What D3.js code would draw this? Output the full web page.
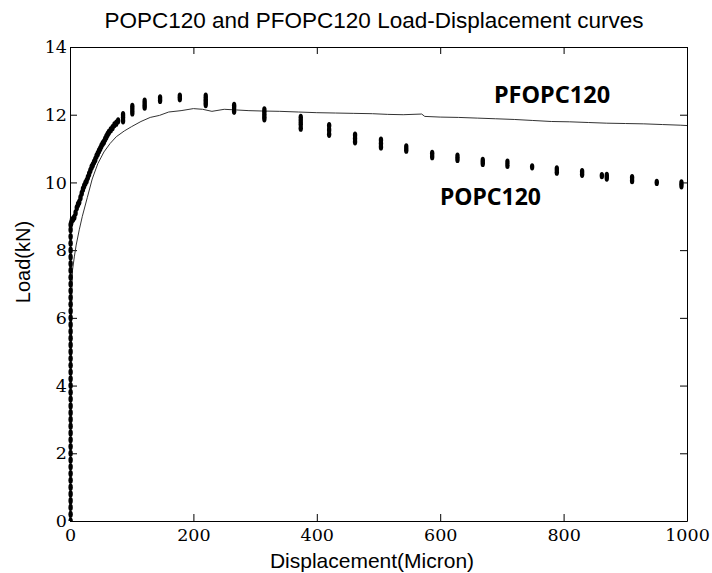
<!DOCTYPE html>
<html>
<head>
<meta charset="utf-8">
<script src="https://cdn.jsdelivr.net/npm/d3@7"></script>
<style>
  body { margin: 0; background: #fff; }
  svg { display: block; }
</style>
</head>
<body>
<div id="chart"></div>
<script>
// axis ticks
const xTicks = [0, 200, 400, 600, 800, 1000];
const yTicks = [0, 2, 4, 6, 8, 10, 12, 14];

// PFOPC120 : solid curve (displacement in micron, load in kN)
const pfopcDisp = [0, 1, 2, 3, 4, 7, 10, 15, 20, 28, 36, 45, 55, 65, 75, 88, 100, 115, 130, 145,
  160, 180, 200, 215, 230, 250, 270, 290, 310, 340, 370, 400, 430, 460, 490, 515, 540, 570,
  575, 600, 630, 660, 690, 720, 750, 780, 810, 840, 870, 900, 930, 960, 990, 1000];
const pfopcLoad = [0, 2.5, 5.0, 6.8, 7.4, 7.8, 8.15, 8.6, 9.0, 9.55, 10.1, 10.55, 10.9, 11.15, 11.35, 11.52, 11.65, 11.8, 11.92, 11.98,
  12.08, 12.12, 12.18, 12.16, 12.1, 12.16, 12.14, 12.12, 12.11, 12.1, 12.08, 12.06, 12.05, 12.04, 12.03, 12.01, 12.0, 12.02,
  11.95, 11.93, 11.92, 11.9, 11.88, 11.86, 11.83, 11.8, 11.79, 11.77, 11.75, 11.74, 11.73, 11.71, 11.69, 11.68];

// POPC120 : markers, elastic column near zero displacement
const popcColumnLoad = [0, 0.2, 0.4, 0.6, 0.8, 1.0, 1.2, 1.4, 1.6, 1.8, 2.0, 2.2, 2.4, 2.6, 2.8, 3.0,
  3.2, 3.4, 3.6, 3.8, 4.0, 4.2, 4.4, 4.6, 4.8, 5.0, 5.2, 5.4, 5.6, 5.8, 6.0, 6.2, 6.4, 6.6,
  6.8, 7.0, 7.2, 7.4, 7.6, 7.8, 8.0, 8.2, 8.4, 8.6, 8.75];

// POPC120 : rising and softening branch
const popcDisp = [2, 3, 5, 7, 9, 11, 13, 15, 17, 19, 21, 23, 25, 27, 29, 31, 33, 35, 37, 39,
  41, 43, 45, 47, 49, 51, 53, 55, 57, 59, 61, 63, 66, 69, 72, 75, 78,
  86, 86, 86, 101, 101, 101, 121, 121, 121, 146, 146, 178, 178,
  220, 220, 220, 220, 266, 266, 266, 315, 315, 315, 315, 374, 374, 374, 374,
  420, 420, 420, 462, 462, 462, 504, 504, 504, 545, 545, 587, 587, 628, 628,
  669, 669, 709, 709, 749, 789, 789, 830, 830, 862, 870, 870, 911, 911, 951, 991, 991];
const popcLoad = [8.8, 8.88, 8.92, 8.97, 9.1, 9.25, 9.35, 9.42, 9.55, 9.68, 9.8, 9.9, 9.98, 10.05, 10.15, 10.25, 10.35, 10.45, 10.52, 10.6,
  10.68, 10.78, 10.85, 10.93, 11.0, 11.08, 11.15, 11.2, 11.28, 11.35, 11.42, 11.48, 11.55, 11.62, 11.7, 11.75, 11.82,
  11.82, 11.92, 12.0, 12.05, 12.15, 12.25, 12.22, 12.3, 12.4, 12.42, 12.5, 12.47, 12.55,
  12.3, 12.38, 12.46, 12.55, 12.1, 12.2, 12.28, 11.88, 11.96, 12.05, 12.14, 11.6, 11.72, 11.82, 11.92,
  11.42, 11.55, 11.68, 11.2, 11.3, 11.4, 11.05, 11.15, 11.25, 10.95, 11.05, 10.76, 10.86, 10.68, 10.78,
  10.56, 10.65, 10.5, 10.6, 10.46, 10.3, 10.4, 10.24, 10.32, 10.2, 10.13, 10.21, 10.05, 10.14, 10.0, 9.9, 9.99];

const width = 712, height = 573;
const margin = { top: 47, right: 25, bottom: 52, left: 70 };

const svg = d3.select("#chart")
  .append("svg")
  .attr("width", width)
  .attr("height", height);

const x = d3.scaleLinear()
  .domain([0, 1000])
  .range([margin.left, width - margin.right]);

const y = d3.scaleLinear()
  .domain([0, 14])
  .range([height - margin.bottom, margin.top]);

svg.append("clipPath").attr("id", "plot")
  .append("rect")
  .attr("x", margin.left - 4)
  .attr("y", margin.top)
  .attr("width", width - margin.left - margin.right + 4)
  .attr("height", height - margin.top - margin.bottom);

// axes with inward ticks on all four sides
const serif = "'DejaVu Serif', serif";
const sans = "'Liberation Sans', Arial, sans-serif";

function styleAxis(g) {
  g.attr("font-family", null).attr("font-size", null);
  g.select(".domain").attr("stroke", "#000").attr("stroke-width", 1);
  g.selectAll(".tick line").attr("stroke", "#000");
  g.selectAll(".tick text")
    .attr("fill", "#000")
    .style("font-family", serif)
    .style("font-size", "17.5px");
}

svg.append("g")
  .attr("transform", `translate(0,${y(0)})`)
  .call(d3.axisBottom(x).tickValues(xTicks).tickFormat(d3.format("d")).tickSize(-7).tickPadding(5).tickSizeOuter(0))
  .call(styleAxis)
  .call(g => g.selectAll(".tick text").attr("dy", "0.85em"));

svg.append("g")
  .attr("transform", `translate(0,${y(14)})`)
  .call(d3.axisTop(x).tickValues(xTicks).tickSize(-7).tickFormat("").tickSizeOuter(0))
  .call(styleAxis);

svg.append("g")
  .attr("transform", `translate(${x(0)},0)`)
  .call(d3.axisLeft(y).tickValues(yTicks).tickSize(-7).tickPadding(3).tickSizeOuter(0))
  .call(styleAxis);

svg.append("g")
  .attr("transform", `translate(${x(1000)},0)`)
  .call(d3.axisRight(y).tickValues(yTicks).tickSize(-7).tickFormat("").tickSizeOuter(0))
  .call(styleAxis);

// PFOPC120 line
const pfopc = pfopcDisp.map((d, i) => [d, pfopcLoad[i]]);
const line = d3.line()
  .x(d => x(d[0]))
  .y(d => y(d[1]));

svg.append("path")
  .datum(pfopc)
  .attr("fill", "none")
  .attr("stroke", "#333")
  .attr("stroke-width", 1)
  .attr("d", line);

// POPC120 markers
const popc = popcColumnLoad.map(l => [1, l])
  .concat(popcDisp.map((d, i) => [d, popcLoad[i]]));

svg.append("g")
  .attr("clip-path", "url(#plot)")
  .selectAll("ellipse")
  .data(popc)
  .join("ellipse")
  .attr("cx", d => x(d[0]))
  .attr("cy", d => y(d[1]))
  .attr("rx", 2.2)
  .attr("ry", 3.6)
  .attr("fill", "#000");

// labels
svg.append("text")
  .attr("x", 374)
  .attr("y", 28)
  .attr("text-anchor", "middle")
  .style("font-family", sans)
  .style("font-size", "22.5px")
  .text("POPC120 and PFOPC120 Load-Displacement curves");

svg.append("text")
  .attr("x", 372)
  .attr("y", 568)
  .attr("text-anchor", "middle")
  .style("font-family", sans)
  .style("font-size", "21px")
  .text("Displacement(Micron)");

svg.append("text")
  .attr("transform", "translate(30,262) rotate(-90)")
  .attr("text-anchor", "middle")
  .style("font-family", sans)
  .style("font-size", "20px")
  .text("Load(kN)");

const bold = "'Noto Sans', 'DejaVu Sans', sans-serif";
svg.append("text")
  .attr("x", 494)
  .attr("y", 103)
  .style("font-family", bold)
  .style("font-weight", "bold")
  .style("font-size", "23.5px")
  .text("PFOPC120");

svg.append("text")
  .attr("x", 440)
  .attr("y", 205)
  .style("font-family", bold)
  .style("font-weight", "bold")
  .style("font-size", "23px")
  .text("POPC120");
</script>
</body>
</html>
